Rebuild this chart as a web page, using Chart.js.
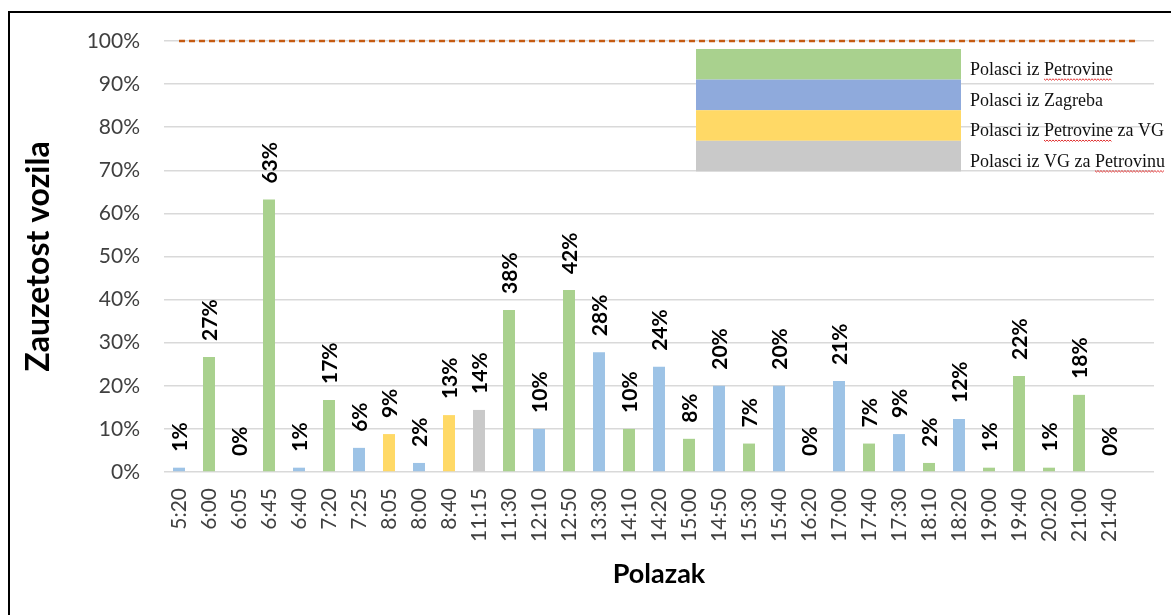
<!DOCTYPE html>
<html>
<head>
<meta charset="utf-8">
<script src="https://cdn.jsdelivr.net/npm/chart.js@4.4.1/dist/chart.umd.min.js"></script>
<style>
    html, body { margin: 0; padding: 0; background: #fff; }
    .wrap { position: relative; width: 1171px; height: 615px; overflow: hidden; }
    .frame {
        position: absolute; left: 8px; top: 11px; width: 1200px; height: 700px;
        border: 2px solid #000; pointer-events: none;
    }
</style>
</head>
<body>
<div class="wrap">
    <canvas id="occupancyChart" width="1171" height="615"></canvas>
    <div class="frame"></div>
</div>
<script>
// Departures (last slot is empty, as in the original)
const departures = ['5:20', '6:00', '6:05', '6:45', '6:40', '7:20', '7:25', '8:05', '8:00', '8:40',
    '11:15', '11:30', '12:10', '12:50', '13:30', '14:10', '14:20', '15:00', '14:50', '15:30',
    '15:40', '16:20', '17:00', '17:40', '17:30', '18:10', '18:20', '19:00', '19:40', '20:20',
    '21:00', '21:40', ''];

// Vehicle occupancy in %
const occupancy = [1.0, 26.7, 0, 63.2, 1.0, 16.7, 5.6, 8.8, 2.1, 13.2,
    14.4, 37.6, 10.0, 42.2, 27.8, 10.0, 24.4, 7.7, 20.0, 6.6,
    20.0, 0, 21.1, 6.6, 8.8, 2.1, 12.3, 1.0, 22.3, 1.0,
    17.9, 0, null];

// Route of each departure: 0 = iz Petrovine, 1 = iz Zagreba, 2 = Petrovina -> VG, 3 = VG -> Petrovina
const route = [1, 0, 1, 0, 1, 0, 1, 2, 1, 2,
    3, 0, 1, 0, 1, 0, 1, 0, 1, 0,
    1, 0, 1, 0, 1, 0, 1, 0, 0, 0,
    0, 0, 0];

// Full capacity reference line
const capacity = [100, 100, 100, 100, 100, 100, 100, 100, 100, 100, 100,
    100, 100, 100, 100, 100, 100, 100, 100, 100, 100, 100,
    100, 100, 100, 100, 100, 100, 100, 100, 100, 100, 100];

const yTicks = [0, 10, 20, 30, 40, 50, 60, 70, 80, 90, 100];

const routeNames = ['Polasci iz Petrovine', 'Polasci iz Zagreba', 'Polasci iz Petrovine za VG', 'Polasci iz VG za Petrovinu'];
const barColors = ['#a9d18e', '#9dc3e6', '#ffd966', '#c9c9c9'];
const legendColors = ['#a9d18e', '#8faadc', '#ffd966', '#c9c9c9'];

// Rotated value labels above each bar
const barLabels = {
    id: 'barLabels',
    afterDatasetsDraw(chart) {
        const ctx = chart.ctx;
        const meta = chart.getDatasetMeta(1);
        ctx.save();
        ctx.font = 'bold 21px Lato';
        ctx.fillStyle = '#000';
        ctx.textAlign = 'left';
        ctx.textBaseline = 'middle';
        meta.data.forEach((bar, i) => {
            const v = occupancy[i];
            if (v === null) return;
            ctx.save();
            ctx.translate(bar.x + 1, bar.y - 16);
            ctx.rotate(-Math.PI / 2);
            ctx.fillText(Math.round(v) + '%', 0, 0);
            ctx.restore();
        });
        ctx.restore();
    }
};

// Legend drawn as stacked colour bands with names to the right
const bandLegend = {
    id: 'bandLegend',
    afterDraw(chart) {
        const ctx = chart.ctx;
        const x = 696, y = 49, w = 265, h = 30.6;
        ctx.save();
        routeNames.forEach((name, i) => {
            ctx.fillStyle = legendColors[i];
            ctx.fillRect(x, y + i * h, w, h);
        });
        ctx.font = '18px "Liberation Serif"';
        ctx.fillStyle = '#111';
        ctx.textBaseline = 'alphabetic';
        routeNames.forEach((name, i) => {
            const tx = 970, ty = y + i * h + 26;
            ctx.fillText(name, tx, ty);
            // spell-check squiggle under "Petrovin..."
            const idx = name.indexOf('Petrovin');
            if (idx >= 0) {
                const start = tx + ctx.measureText(name.slice(0, idx)).width;
                const word = name.slice(idx).split(' ')[0];
                const len = ctx.measureText(word).width;
                ctx.strokeStyle = '#e03030';
                ctx.lineWidth = 1;
                ctx.beginPath();
                for (let k = 0; k <= len; k += 1.5) {
                    const yy = ty + 4 + (Math.round(k / 1.5) % 2 ? 1.2 : -0.2);
                    if (k === 0) ctx.moveTo(start + k, yy); else ctx.lineTo(start + k, yy);
                }
                ctx.stroke();
            }
        });
        ctx.restore();
    }
};

new Chart(document.getElementById('occupancyChart'), {
    data: {
        labels: departures,
        datasets: [{
            type: 'line',
            label: 'Kapacitet',
            data: capacity,
            borderColor: '#c55a11',
            borderWidth: 2.5,
            borderDash: [6, 4],
            pointRadius: 0,
            fill: false,
            clip: false
        }, {
            type: 'bar',
            label: 'Zauzetost vozila',
            data: occupancy,
            backgroundColor: route.map(r => barColors[r]),
            barPercentage: 0.4,
            categoryPercentage: 1
        }]
    },
    options: {
        responsive: false,
        animation: false,
        layout: { padding: { left: 0, right: 17, top: 41, bottom: 0 } },
        plugins: {
            legend: { display: false },
            tooltip: { enabled: false }
        },
        scales: {
            x: {
                grid: { display: false, drawTicks: false },
                border: { display: false },
                ticks: {
                    autoSkip: false,
                    minRotation: 90,
                    maxRotation: 90,
                    padding: 16,
                    color: '#404040',
                    font: { family: 'Lato', size: 21 }
                },
                title: {
                    display: true,
                    text: 'Polazak',
                    color: '#000',
                    font: { family: 'Lato', size: 27, weight: 'bold' },
                    padding: { top: 0, bottom: 25 }
                },
                afterFit(scale) {
                    scale.height = 143;
                    scale.paddingLeft = 0;
                    scale.paddingRight = 0;
                }
            },
            y: {
                min: 0,
                max: 100,
                afterBuildTicks(scale) { scale.ticks = yTicks.map(v => ({ value: v })); },
                grid: { color: '#d9d9d9', lineWidth: 1.5, drawTicks: false },
                border: { display: false },
                ticks: {
                    padding: 24,
                    color: '#404040',
                    font: { family: 'Lato', size: 21 },
                    callback: v => v + '%'
                },
                title: {
                    display: true,
                    text: 'Zauzetost vozila',
                    color: '#000',
                    font: { family: 'Lato', size: 32, weight: 'bold' },
                    padding: { top: 19, bottom: 0 }
                },
                afterFit(scale) { scale.width = 164; }
            }
        }
    },
    plugins: [barLabels, bandLegend]
});
</script>
</body>
</html>
